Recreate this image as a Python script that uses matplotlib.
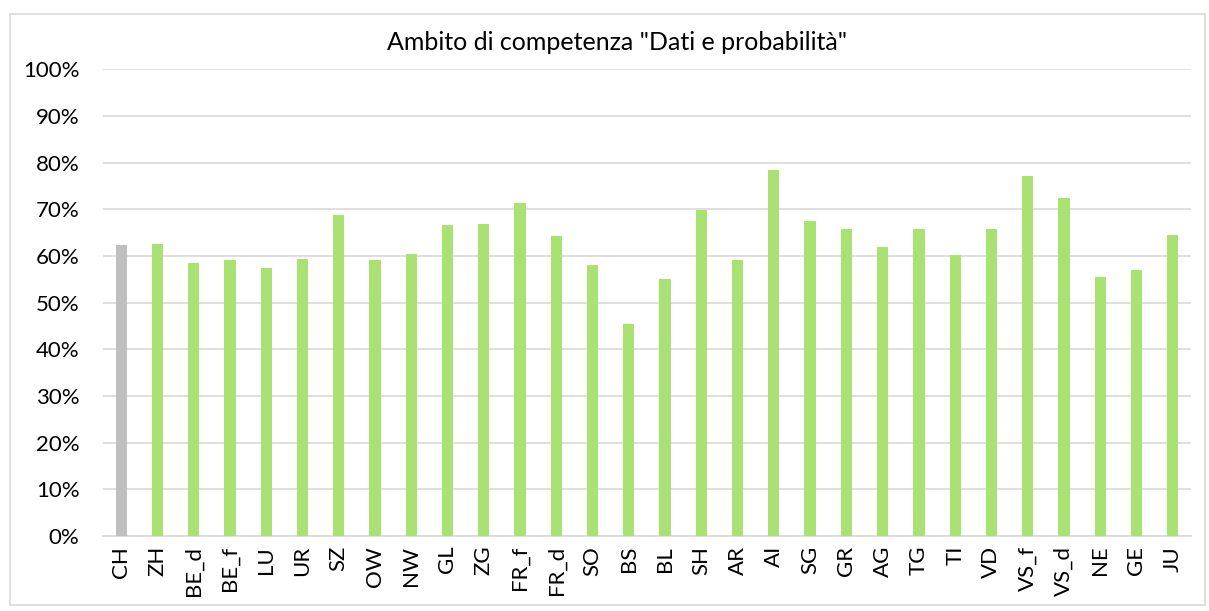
import matplotlib
matplotlib.use('Agg')
import matplotlib.pyplot as plt
from matplotlib.patches import Rectangle
from matplotlib.ticker import PercentFormatter

cantons = ['CH', 'ZH', 'BE_d', 'BE_f', 'LU', 'UR', 'SZ', 'OW', 'NW', 'GL',
           'ZG', 'FR_f', 'FR_d', 'SO', 'BS', 'BL', 'SH', 'AR', 'AI', 'SG',
           'GR', 'AG', 'TG', 'TI', 'VD', 'VS_f', 'VS_d', 'NE', 'GE', 'JU']
values = [62.4, 62.6, 58.4, 59.1, 57.4, 59.4, 68.7, 59.1, 60.4, 66.6,
          66.9, 71.3, 64.2, 58.1, 45.4, 55.1, 69.9, 59.1, 78.4, 67.5,
          65.8, 61.9, 65.8, 60.2, 65.8, 77.1, 72.4, 55.5, 57.0, 64.4]

# CH in grey, cantons in green
colors = ['#BFBFBF'] + ['#A9E273'] * (len(cantons) - 1)

plt.rcParams['font.family'] = ['Lato', 'DejaVu Sans']

fig = plt.figure(figsize=(12.09, 6.11), dpi=100)
ax = fig.add_axes([0.0852, 0.1227, 0.8998, 0.7639])

x = range(len(cantons))
ax.bar(x, values, width=0.31, color=colors, zorder=3)

ax.set_xlim(-0.5, len(cantons) - 0.5)
ax.set_ylim(0, 100)
ax.set_yticks(range(0, 101, 10))
ax.yaxis.set_major_formatter(PercentFormatter(decimals=0))
ax.set_xticks(list(x))
ax.set_xticklabels(cantons, rotation=90)
ax.tick_params(axis='both', length=0, labelsize=16, colors='#000000')
ax.tick_params(axis='y', pad=17)
ax.tick_params(axis='x', pad=7)

ax.grid(axis='y', color='#D9D9D9', linewidth=1.2, zorder=0)
for s in ['top', 'right', 'left']:
    ax.spines[s].set_visible(False)
ax.spines['bottom'].set_color('#D9D9D9')
ax.spines['bottom'].set_linewidth(1.2)

fig.text(0.51, 0.931, 'Ambito di competenza "Dati e probabilità"',
         ha='center', va='center', fontsize=18)

# chart border
fig.patches.append(Rectangle((10 / 1209, 1 - 605 / 611), 1195 / 1209, 591 / 611,
                             transform=fig.transFigure, fill=False,
                             edgecolor='#D9D9D9', linewidth=1.2))

fig.savefig('out.png', dpi=100)
